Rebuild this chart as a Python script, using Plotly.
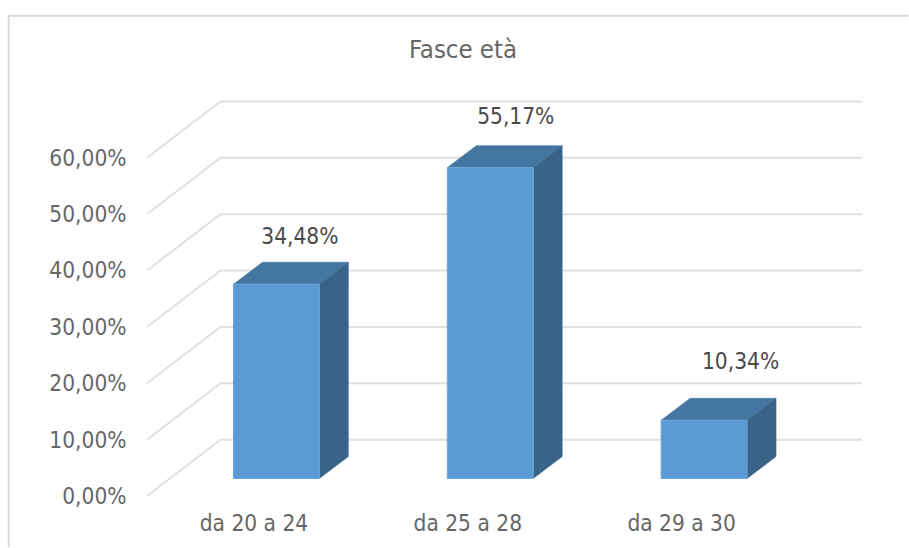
import plotly.graph_objects as go

categories = ["da 20 a 24", "da 25 a 28", "da 29 a 30"]
values = [34.48, 55.17, 10.34]
value_labels = ["34,48%", "55,17%", "10,34%"]
tick_values = [0, 10, 20, 30, 40, 50, 60]
tick_labels = ["0,00%", "10,00%", "20,00%", "30,00%", "40,00%", "50,00%", "60,00%"]

FONT = "DejaVu Sans Condensed, DejaVu Sans"
W, H = 909, 548
L, R, T, B = 146.5, 862.5, 88.5, 496.5
PX_Y = 5.65
PX_X = 214.0
x0 = -0.5
X = lambda px: px / PX_X
Y = lambda px: px / PX_Y

wall_dx, wall_dy = X(73.5), Y(56.5)
bar_dx, bar_dy = X(22.5), Y(17.5)
depth_dx, depth_dy = X(29), Y(22)
bar_w = X(86)
label_dx = [23.5, 25.5, 36.5]
label_dy = [45.5, 49.5, 57.5]

fig = go.Figure()

for v in tick_values:
    fig.add_trace(go.Scatter(
        x=[x0, x0 + wall_dx, 2.5 + wall_dx],
        y=[v, v + wall_dy, v + wall_dy],
        mode="lines", line=dict(color="#e0e0e0", width=2),
        hoverinfo="skip", showlegend=False))

for i, v in enumerate(values):
    xl = i + bar_dx - bar_w / 2
    xr = xl + bar_w
    y0 = bar_dy
    yt = bar_dy + v
    fig.add_trace(go.Scatter(
        x=[xl, xr, xr + depth_dx, xl + depth_dx, xl],
        y=[yt, yt, yt + depth_dy, yt + depth_dy, yt],
        mode="lines", fill="toself", fillcolor="#4575a1",
        line=dict(color="#4575a1", width=0.5), hoverinfo="skip", showlegend=False))
    fig.add_trace(go.Scatter(
        x=[xr, xr + depth_dx, xr + depth_dx, xr, xr],
        y=[y0, y0 + depth_dy, yt + depth_dy, yt, y0],
        mode="lines", fill="toself", fillcolor="#396488",
        line=dict(color="#396488", width=0.5), hoverinfo="skip", showlegend=False))
    fig.add_trace(go.Scatter(
        x=[xl, xr, xr, xl, xl],
        y=[y0, y0, yt, yt, y0],
        mode="lines", fill="toself", fillcolor="#5b9bd5",
        line=dict(color="#6aa5da", width=1), hoverinfo="skip", showlegend=False))

fig.add_trace(go.Scatter(
    x=[i + bar_dx + X(label_dx[i]) for i in range(len(values))],
    y=[v + bar_dy + Y(label_dy[i]) for i, v in enumerate(values)],
    mode="text", text=value_labels, textposition="middle center",
    textfont=dict(family=FONT, size=22.5, color="#4a4a4a"),
    hoverinfo="skip", showlegend=False))

fig.update_layout(
    width=W, height=H, autosize=False,
    margin=dict(l=L, r=W - R, t=T, b=H - B, pad=0),
    paper_bgcolor="white", plot_bgcolor="white",
    showlegend=False,
    title=dict(text="Fasce età", x=463 / W, xanchor="center", y=1 - 49 / H, yanchor="middle",
               automargin=False,
               font=dict(family=FONT, size=25.5, color="#666666")),
    xaxis=dict(range=[x0, 2.5 + wall_dx], tickmode="array", tickvals=[0, 1, 2], ticktext=categories,
               automargin=False,
               showgrid=False, zeroline=False, showline=False, ticks="outside", ticklen=7,
               tickcolor="rgba(0,0,0,0)", tickfont=dict(family=FONT, size=22.5, color="#666666")),
    yaxis=dict(range=[0, (B - T) / PX_Y], tickmode="array", tickvals=tick_values, ticktext=tick_labels,
               automargin=False,
               showgrid=False, zeroline=False, showline=False, ticks="outside", ticklen=15,
               tickcolor="rgba(0,0,0,0)", tickfont=dict(family=FONT, size=22.5, color="#666666")),
    shapes=[dict(type="path", xref="paper", yref="paper",
                 path=f"M {(8-L)/(R-L)} {(B-548)/(B-T)} "
                      f"L {(8-L)/(R-L)} {(B-15)/(B-T)} L {(909-L)/(R-L)} {(B-15)/(B-T)}",
                 line=dict(color="#d9d9d9", width=2), layer="below")],
)
fig.write_html("out.html", config=dict(displayModeBar=False),
               post_script="document.body.style.margin='0';document.documentElement.style.overflow='hidden';")
